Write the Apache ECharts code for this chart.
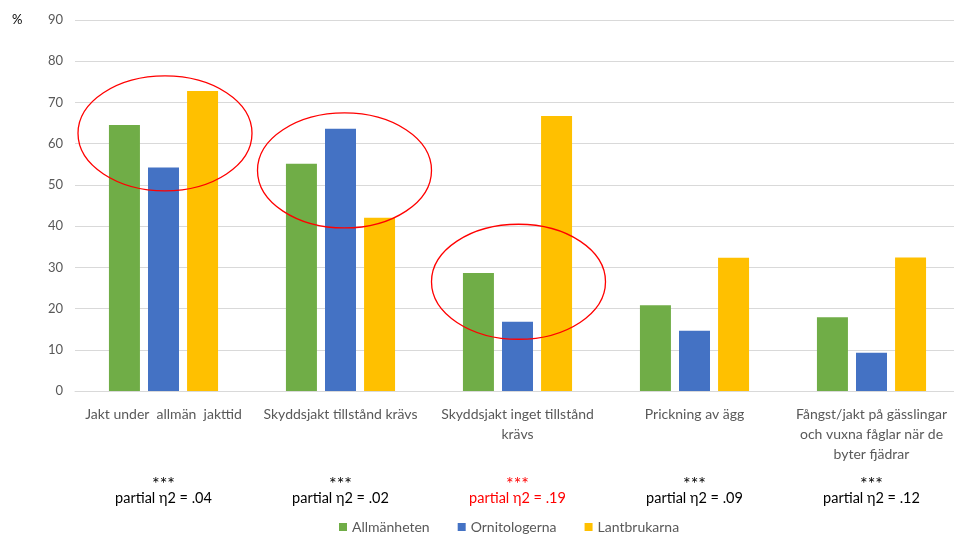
<!DOCTYPE html>
<html>
<head>
<meta charset="utf-8">
<script src="https://cdn.jsdelivr.net/npm/echarts@6/dist/echarts.min.js"></script>
<style>html,body{margin:0;padding:0;background:#fff}#c{width:954px;height:535px}</style>
</head>
<body>
<div id="c"></div>
<script>
const categories = [
  'Jakt under  allmän  jakttid',
  'Skyddsjakt tillstånd krävs',
  'Skyddsjakt inget tillstånd\nkrävs',
  'Prickning av ägg',
  'Fångst/jakt på gässlingar\noch vuxna fåglar när de\nbyter fjädrar'
];
const seriesNames = ['Allmänheten', 'Ornitologerna', 'Lantbrukarna'];
const allmanheten = [64.5, 55.1, 28.6, 20.8, 17.9];
const ornitologerna = [54.2, 63.6, 16.8, 14.6, 9.3];
const lantbrukarna = [72.8, 42.0, 66.7, 32.3, 32.4];
const stars = ['***', '***', '***', '***', '***'];
const etaLabels = ['partial η2 = .04', 'partial η2 = .02', 'partial η2 = .19', 'partial η2 = .09', 'partial η2 = .12'];
const highlighted = [false, false, true, false, false];
const circled = [0, 1, 2];
const yTicks = [0, 10, 20, 30, 40, 50, 60, 70, 80, 90];

const colors = ['#70ad47', '#4472c4', '#ffc000'];
const FONT = 'Lato, "Open Sans", sans-serif';
const chart = echarts.init(document.getElementById('c'), null, {renderer: 'canvas'});

const mk = (name, data, i) => ({
  name, type: 'bar', data, barWidth: 31, barGap: '26%', barCategoryGap: '38%',
  itemStyle: {color: colors[i]}, xAxisIndex: 0
});

const option = {
  animation: false,
  textStyle: {fontFamily: FONT},
  grid: {left: 75, width: 885, top: 20, height: 371, containLabel: false, outerBoundsMode: 'none'},
  xAxis: [{
    type: 'category', data: categories,
    axisLine: {lineStyle: {color: '#d9d9d9', width: 1}},
    axisTick: {show: false},
    axisLabel: {color: '#595959', fontSize: 14, fontFamily: FONT, margin: 13, lineHeight: 20, interval: 0}
  }, {
    type: 'category', data: categories, position: 'bottom', offset: 82,
    axisLine: {show: false}, axisTick: {show: false},
    axisLabel: {
      interval: 0, fontFamily: FONT, margin: 0,
      formatter: (v, idx) => {
        const st = highlighted[idx] ? 'r' : 'b';
        return '{' + st + 's|' + stars[idx] + '}\n{' + st + '|' + etaLabels[idx] + '}';
      },
      rich: {
        bs: {color: '#000', fontSize: 18, lineHeight: 16, fontFamily: FONT, padding: [6, 0, 0, 0]},
        b: {color: '#000', fontSize: 14.5, lineHeight: 18, fontFamily: FONT},
        rs: {color: '#ff0000', fontSize: 18, lineHeight: 16, fontFamily: FONT, padding: [6, 0, 0, 0]},
        r: {color: '#ff0000', fontSize: 14.5, lineHeight: 18, fontFamily: FONT}
      }
    }
  }],
  yAxis: {
    type: 'value', min: 0, max: 90, interval: 10,
    axisLine: {show: false}, axisTick: {show: false},
    splitLine: {lineStyle: {color: '#d9d9d9', width: 1}},
    axisLabel: {color: '#595959', fontSize: 13, fontFamily: FONT, margin: 12,
      formatter: v => yTicks.includes(v) ? String(v) : ''}
  },
  legend: {
    top: 515, left: 334, itemWidth: 8, itemHeight: 8, itemGap: 28,
    icon: 'rect', textStyle: {color: '#595959', fontSize: 14, fontFamily: FONT},
    data: seriesNames
  },
  series: [mk(seriesNames[0], allmanheten, 0), mk(seriesNames[1], ornitologerna, 1), mk(seriesNames[2], lantbrukarna, 2)]
};
chart.setOption(option);

// red ellipses around the first three groups, centered on each category
const ellipseCenterVal = [62.5, 53.5, 26.5];
const ellipseDx = [1.5, 4, 1];
const ellipses = circled.map((i, k) => {
  const c = chart.convertToPixel({xAxisIndex: 0, yAxisIndex: 0}, [i, ellipseCenterVal[k]]);
  return {
    type: 'ellipse', shape: {cx: c[0] + ellipseDx[k], cy: c[1], rx: 87, ry: 57.5},
    style: {fill: 'none', stroke: '#ff0000', lineWidth: 1.3}, z: 100
  };
});
chart.setOption({graphic: [{type: 'text', left: 12, top: 13, style: {text: '%', fill: '#000', font: '13px ' + FONT}}].concat(ellipses)});
</script>
</body>
</html>
